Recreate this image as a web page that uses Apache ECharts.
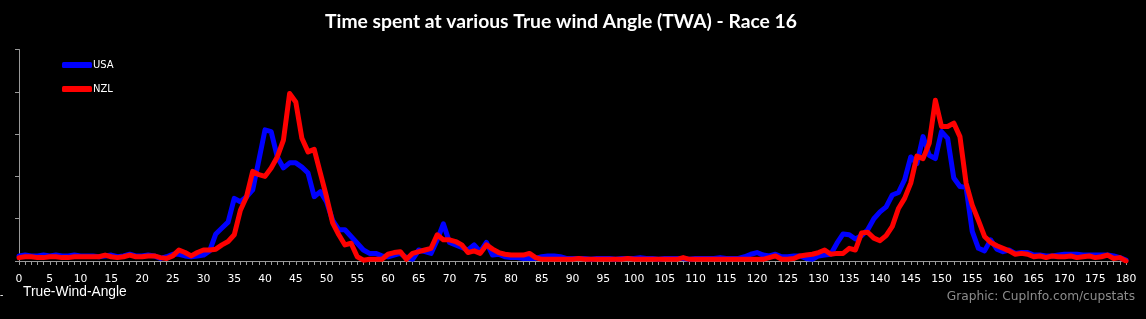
<!DOCTYPE html>
<html>
<head>
<meta charset="utf-8">
<script src="https://cdn.jsdelivr.net/npm/echarts@6/dist/echarts.min.js"></script>
<style>
html,body{margin:0;padding:0;background:#000;}
#c{width:1146px;height:319px;}
</style>
</head>
<body>
<div id="c"></div>
<script>
// TWA categories 0..180
var angles = [];
for (var a = 0; a <= 180; a++) angles.push(String(a));

var usa = [
0.6,0.7,0.6,0.6,0.7,0.6,0.7,0.6,0.6,0.7,
0.6,0.6,0.6,0.5,0.6,0.7,0.5,0.6,0.8,0.6,
0.6,0.7,0.6,0.3,0.5,0.8,0.8,0.6,0.5,0.6,
0.7,1.2,3.2,3.9,4.6,7.4,7.0,7.6,8.4,11.9,
15.5,15.3,12.3,11.0,11.6,11.6,11.1,10.4,7.6,8.2,
7.0,4.8,3.7,3.7,2.9,2.1,1.3,0.9,0.9,0.6,
0.5,0.7,0.9,0.4,0.2,1.3,1.1,0.9,2.5,4.4,
2.2,1.9,1.6,1.3,1.9,1.1,2.2,0.7,0.8,0.5,
0.4,0.4,0.3,0.3,0.3,0.5,0.6,0.6,0.5,0.3,
0.3,0.3,0.3,0.2,0.3,0.3,0.3,0.2,0.3,0.3,
0.3,0.4,0.3,0.3,0.2,0.3,0.3,0.3,0.3,0.2,
0.3,0.3,0.3,0.3,0.4,0.3,0.3,0.3,0.5,0.8,
1.0,0.7,0.6,0.8,0.5,0.5,0.6,0.6,0.3,0.2,
0.6,0.7,0.8,2.1,3.2,3.1,2.6,3.0,3.7,5.0,
5.8,6.4,7.8,8.1,9.6,12.3,11.5,14.7,12.5,12.1,
15.3,14.5,9.8,8.8,8.7,3.5,1.5,1.2,2.5,1.4,
1.1,1.3,0.9,1.0,1.0,0.7,0.7,0.6,0.6,0.7,
0.8,0.8,0.8,0.7,0.7,0.7,0.7,0.7,0.6,0.4,
0.1
];

var nzl = [
0.4,0.5,0.5,0.4,0.4,0.5,0.5,0.4,0.4,0.5,
0.5,0.5,0.5,0.5,0.7,0.5,0.4,0.5,0.7,0.5,
0.5,0.6,0.6,0.4,0.3,0.6,1.3,1.0,0.6,1.0,
1.3,1.3,1.4,1.9,2.3,3.1,6.0,7.6,10.6,10.2,
10.0,11.0,12.3,14.3,19.8,18.8,14.5,12.9,13.2,10.4,
7.6,4.5,3.1,1.9,2.1,0.5,0.1,0.2,0.2,0.2,
0.8,1.0,1.1,0.2,0.9,1.1,1.3,1.5,3.1,2.5,
2.5,2.3,1.9,1.0,1.2,0.9,1.9,1.4,1.0,0.8,
0.7,0.7,0.7,0.9,0.4,0.2,0.2,0.2,0.2,0.2,
0.2,0.3,0.2,0.2,0.2,0.2,0.2,0.2,0.2,0.3,
0.2,0.2,0.2,0.2,0.2,0.2,0.2,0.2,0.4,0.2,
0.2,0.2,0.2,0.2,0.2,0.2,0.2,0.2,0.2,0.2,
0.2,0.2,0.4,0.6,0.2,0.2,0.3,0.6,0.7,0.8,
1.0,1.3,0.8,0.9,0.9,1.5,1.3,3.3,3.4,2.7,
2.4,3.0,4.1,6.2,7.4,9.2,12.4,12.1,13.9,19.0,
15.9,15.9,16.3,14.7,9.2,6.6,4.8,2.9,2.2,1.8,
1.5,1.2,0.8,0.9,0.8,0.5,0.6,0.4,0.6,0.5,
0.5,0.6,0.4,0.5,0.6,0.4,0.5,0.7,0.3,0.4,
0.0
];

var chart = echarts.init(document.getElementById('c'), null, {renderer: 'canvas'});
chart.setOption({
  backgroundColor: '#000',
  animation: false,
  title: {
    text: 'Time spent at various True wind Angle (TWA) - Race 16',
    left: 320, top: 7,
    textStyle: {color: '#fff', fontFamily: 'Lato', fontWeight: 'bold', fontSize: 19.3}
  },
  legend: {
    orient: 'vertical', left: 62, top: 60, padding: 0,
    itemWidth: 30, itemHeight: 6, itemGap: 14,
    icon: 'roundRect',
    textStyle: {color: '#fff', fontFamily: 'DejaVu Sans', fontSize: 10, padding: [0,0,0,-4]},
    data: ['USA', 'NZL']
  },
  grid: {left: 19, right: 20, top: 49.5, bottom: 58, containLabel: false},
  xAxis: {
    type: 'category', data: angles, boundaryGap: false,
    axisLine: {lineStyle: {color: '#999', width: 1}},
    axisTick: {show: true, interval: 0, length: 4, lineStyle: {color: '#999'}},
    axisLabel: {interval: 4, color: '#fff', fontFamily: 'DejaVu Sans', fontSize: 10.8, margin: 13},
    splitLine: {show: false}
  },
  yAxis: {
    type: 'value', min: 0, max: 25, interval: 5,
    axisLine: {show: true, lineStyle: {color: '#999', width: 1}},
    axisTick: {show: true, length: 4, lineStyle: {color: '#999'}},
    axisLabel: {show: false},
    splitLine: {show: false}
  },
  graphic: [
    {type: 'text', left: 23, top: 285, style: {text: 'True-Wind-Angle', fill: '#fff', font: '13.8px "Liberation Sans"'}},
    {type: 'text', left: 0, top: 290, style: {text: '-', fill: '#fff', font: '10px "Liberation Sans"'}},
    {type: 'text', right: 11, top: 291, style: {text: 'Graphic: CupInfo.com/cupstats', fill: '#8c8c8c', font: '12.2px "DejaVu Sans"'}}
  ],
  series: [
    {name: 'USA', type: 'line', data: usa, showSymbol: false, color: '#0000ff',
     lineStyle: {width: 5, color: '#0000ff', join: 'round', cap: 'round'}},
    {name: 'NZL', type: 'line', data: nzl, showSymbol: false, color: '#ff0000',
     lineStyle: {width: 5, color: '#ff0000', join: 'round', cap: 'round'}}
  ]
});
</script>
</body>
</html>
